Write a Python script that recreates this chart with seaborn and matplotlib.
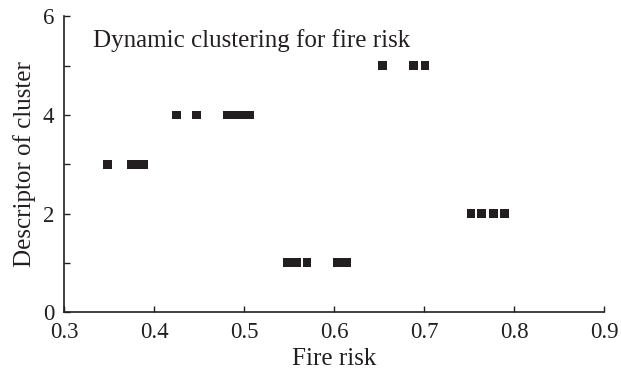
import numpy as np
import pandas as pd
import matplotlib
matplotlib.use('Agg')
import matplotlib.pyplot as plt
import seaborn as sns
from matplotlib.ticker import MultipleLocator

sns.set_style("ticks")
plt.rcParams['font.family'] = ['Liberation Serif', 'DejaVu Serif']

# 读图估计的数据
fire_risk = [0.348, 0.375, 0.381, 0.388,
             0.425, 0.447, 0.481, 0.489, 0.497, 0.506,
             0.654, 0.688, 0.701,
             0.752, 0.764, 0.777, 0.789,
             0.548, 0.553, 0.558, 0.570, 0.604, 0.614]
cluster = [3, 3, 3, 3,
           4, 4, 4, 4, 4, 4,
           5, 5, 5,
           2, 2, 2, 2,
           1, 1, 1, 1, 1, 1]
xtick_labels = ['0.3', '0.4', '0.5', '0.6', '0.7', '0.8', '0.9']
df = pd.DataFrame({'Fire risk': fire_risk, 'cluster': cluster})

ink = '#231f20'
fig = plt.figure(figsize=(6.21, 3.72), dpi=100)
ax = fig.add_axes([0.103, 0.161, 0.870, 0.795])
sns.scatterplot(data=df, x='Fire risk', y='cluster', marker='s', s=40,
                color=ink, edgecolor='none', ax=ax)

ax.set_xlim(0.3, 0.9)
ax.set_ylim(0, 6)
ax.set_xticks(np.arange(0.3, 0.91, 0.1))
ax.set_xticklabels(xtick_labels)
ax.set_yticks([0, 2, 4, 6])
ax.yaxis.set_minor_locator(MultipleLocator(1))
ax.tick_params(direction='in', length=4, width=1, labelsize=16.5, colors=ink)
ax.tick_params(axis='x', pad=7)
ax.tick_params(axis='y', pad=7)
ax.tick_params(which='minor', direction='in', length=4, width=1, colors=ink)
sns.despine(ax=ax)
for s in ['left', 'bottom']:
    ax.spines[s].set_linewidth(1.2)
    ax.spines[s].set_color(ink)

ax.set_xlabel('Fire risk', fontsize=18, color=ink, labelpad=4)
ax.set_ylabel('Descriptor of cluster', fontsize=18, color=ink, labelpad=5)
ax.text(0.332, 5.52, 'Dynamic clustering for fire risk', fontsize=18,
        color=ink, va='center')

fig.savefig('out.png', dpi=100)
